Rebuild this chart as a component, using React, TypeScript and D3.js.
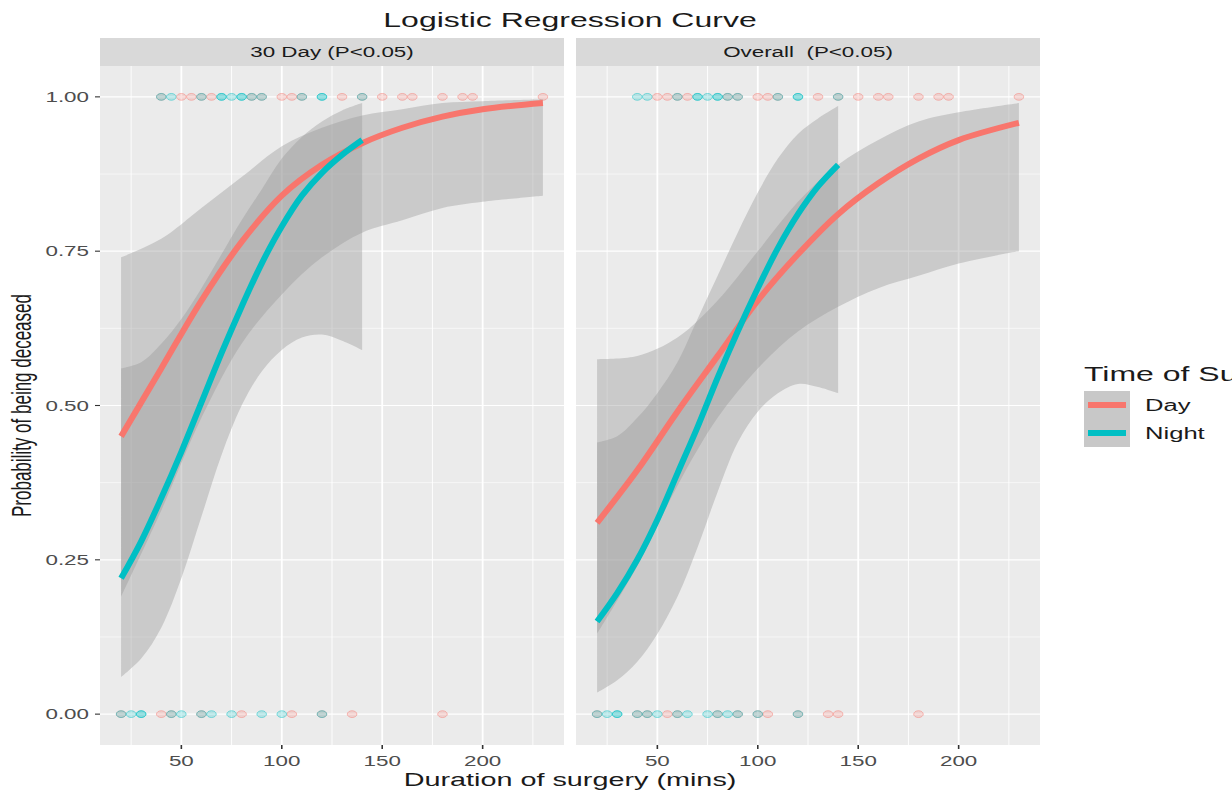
import React from "react";
import * as d3 from "d3";

// fitted curves at these durations
const dayGrid = [20, 40, 60, 80, 100, 120, 140, 160, 180, 200, 230];
const nightGrid = [20, 30, 40, 50, 60, 70, 80, 90, 100, 110, 120, 130, 140];

// 30 day panel
const day30Fit = [0.45, 0.56, 0.67, 0.765, 0.84, 0.89, 0.925, 0.95, 0.968, 0.98, 0.99];
const day30Lo = [0.19, 0.33, 0.48, 0.6, 0.68, 0.74, 0.78, 0.8, 0.82, 0.83, 0.84];
const day30Hi = [0.74, 0.77, 0.82, 0.87, 0.92, 0.95, 0.97, 0.98, 0.99, 0.993, 0.996];
const night30Fit = [0.22, 0.28, 0.35, 0.425, 0.505, 0.585, 0.66, 0.73, 0.79, 0.84, 0.877, 0.906, 0.93];
const night30Lo = [0.06, 0.09, 0.14, 0.22, 0.32, 0.42, 0.5, 0.555, 0.59, 0.61, 0.615, 0.605, 0.59];
const night30Hi = [0.56, 0.57, 0.6, 0.64, 0.69, 0.745, 0.8, 0.85, 0.9, 0.935, 0.96, 0.978, 0.99];

// overall panel
const dayAllFit = [0.31, 0.395, 0.49, 0.58, 0.67, 0.745, 0.81, 0.86, 0.9, 0.93, 0.958];
const dayAllLo = [0.13, 0.24, 0.37, 0.48, 0.56, 0.62, 0.66, 0.69, 0.71, 0.73, 0.75];
const dayAllHi = [0.575, 0.58, 0.61, 0.67, 0.75, 0.83, 0.89, 0.93, 0.96, 0.975, 0.99];
const nightAllFit = [0.15, 0.196, 0.25, 0.315, 0.39, 0.465, 0.545, 0.62, 0.69, 0.755, 0.81, 0.855, 0.89];
const nightAllLo = [0.035, 0.055, 0.085, 0.13, 0.19, 0.27, 0.36, 0.44, 0.49, 0.52, 0.535, 0.53, 0.52];
const nightAllHi = [0.44, 0.45, 0.48, 0.52, 0.57, 0.64, 0.71, 0.78, 0.845, 0.9, 0.94, 0.965, 0.985];

// observed durations (deceased = 1, alive = 0)
const day30Dead = [40, 50, 55, 60, 65, 85, 90, 100, 105, 110, 130, 140, 150, 160, 165, 180, 190, 195, 230];
const night30Dead = [40, 45, 60, 70, 70, 75, 80, 80, 85, 90, 110, 120, 120, 140];
const day30Alive = [20, 40, 45, 60, 80, 105, 120, 135, 180];
const night30Alive = [20, 25, 30, 30, 45, 50, 60, 65, 75, 90, 100, 120];
const dayAllDead = [50, 55, 60, 65, 85, 90, 100, 105, 110, 130, 140, 150, 160, 165, 180, 190, 195, 230];
const nightAllDead = [40, 45, 60, 70, 70, 75, 80, 80, 85, 90, 110, 120, 120, 140];
const dayAllAlive = [20, 40, 45, 55, 60, 80, 90, 100, 105, 120, 135, 140, 180];
const nightAllAlive = [20, 25, 30, 30, 40, 45, 50, 60, 65, 75, 80, 85, 90, 100, 120];

const panelTitles = ["30 Day (P<0.05)", "Overall  (P<0.05)"];
const xTicks = [50, 100, 150, 200];
const xMinor = [25, 75, 125, 175, 225];
const yTicks = [0, 0.25, 0.5, 0.75, 1];
const yMinor = [0.125, 0.375, 0.625, 0.875];
const groups = ["Day", "Night"];
const colours = ["#F8766D", "#00BFC4"];

const panels = [
  {
    title: panelTitles[0],
    day: { fit: day30Fit, lo: day30Lo, hi: day30Hi, dead: day30Dead, alive: day30Alive },
    night: { fit: night30Fit, lo: night30Lo, hi: night30Hi, dead: night30Dead, alive: night30Alive },
  },
  {
    title: panelTitles[1],
    day: { fit: dayAllFit, lo: dayAllLo, hi: dayAllHi, dead: dayAllDead, alive: dayAllAlive },
    night: { fit: nightAllFit, lo: nightAllLo, hi: nightAllHi, dead: nightAllDead, alive: nightAllAlive },
  },
];

const W = 1232;
const H = 793;
const font = "'Liberation Sans', Arial, sans-serif";
const panelLefts = [100, 576];
const panelW = 464;
const top = 66;
const bottom = 745;
const stripH = 28;
// the original export is stretched sideways, text included
const SX = 1.6;

function T(props: { x: number; y: number; size: number; anchor?: string; fill?: string; children: React.ReactNode }) {
  const { x, y, size, anchor = "start", fill = "#1a1a1a", children } = props;
  return (
    <text
      transform={`translate(${x},${y}) scale(${SX},1)`}
      textAnchor={anchor}
      fontSize={size}
      fill={fill}
      style={{ whiteSpace: "pre" }}
    >
      {children}
    </text>
  );
}

export default function App() {
  const x = d3.scaleLinear().domain([9.5, 240.5]).range([0, panelW]);
  const y = d3.scaleLinear().domain([-0.05, 1.05]).range([bottom - top, 0]);

  const line = (grid: number[]) =>
    d3.line<number>()
      .x((d, i) => x(grid[i]))
      .y((d) => y(d))
      .curve(d3.curveCatmullRom.alpha(0.5));

  const band = (grid: number[], lo: number[]) =>
    d3.area<number>()
      .x((d, i) => x(grid[i]))
      .y0((d, i) => y(lo[i]))
      .y1((d) => y(d))
      .curve(d3.curveCatmullRom.alpha(0.5));

  return (
    <svg width={W} height={H} style={{ position: "absolute", left: 0, top: 0, background: "#fff" }} fontFamily={font}>
      <T x={570} y={27} size={20} anchor="middle">Logistic Regression Curve</T>

      {panels.map((p, pi) => {
        const series = [
          { grid: dayGrid, s: p.day, c: colours[0] },
          { grid: nightGrid, s: p.night, c: colours[1] },
        ];
        return (
          <g key={pi} transform={`translate(${panelLefts[pi]},${top})`}>
            <defs>
              <clipPath id={`clip${pi}`}>
                <rect width={panelW} height={bottom - top} />
              </clipPath>
            </defs>
            <rect y={-stripH} width={panelW} height={stripH} fill="#D9D9D9" />
            <T x={panelW / 2} y={-stripH / 2 + 5} size={14} anchor="middle">{p.title}</T>
            <rect width={panelW} height={bottom - top} fill="#EBEBEB" />
            {xMinor.map((t) => (
              <line key={"xm" + t} x1={x(t)} x2={x(t)} y1={0} y2={bottom - top} stroke="#fff" strokeWidth={0.9} />
            ))}
            {yMinor.map((t) => (
              <line key={"ym" + t} x1={0} x2={panelW} y1={y(t)} y2={y(t)} stroke="#fff" strokeWidth={0.6} />
            ))}
            {xTicks.map((t) => (
              <line key={"x" + t} x1={x(t)} x2={x(t)} y1={0} y2={bottom - top} stroke="#fff" strokeWidth={1.8} />
            ))}
            {yTicks.map((t) => (
              <line key={"y" + t} x1={0} x2={panelW} y1={y(t)} y2={y(t)} stroke="#fff" strokeWidth={1.2} />
            ))}

            <g clipPath={`url(#clip${pi})`}>
              {series.map(({ s, c }, si) => (
                <g key={"pts" + si}>
                  {s.dead.map((v, i) => (
                    <ellipse key={"d" + i} cx={x(v)} cy={y(1)} rx={4.8} ry={3.4} fill={c} fillOpacity={0.22} stroke={c} strokeOpacity={0.45} strokeWidth={1} />
                  ))}
                  {s.alive.map((v, i) => (
                    <ellipse key={"a" + i} cx={x(v)} cy={y(0)} rx={4.8} ry={3.4} fill={c} fillOpacity={0.22} stroke={c} strokeOpacity={0.45} strokeWidth={1} />
                  ))}
                </g>
              ))}
              {series.map(({ grid, s }, si) => (
                <path key={"rib" + si} d={band(grid, s.lo)(s.hi) || ""} fill="#999999" fillOpacity={0.4} />
              ))}
              {series.map(({ grid, s, c }, si) => (
                <path key={"ln" + si} d={line(grid)(s.fit) || ""} fill="none" stroke={c} strokeWidth={6} />
              ))}
            </g>

            {xTicks.map((t) => (
              <g key={"xt" + t}>
                <line x1={x(t)} x2={x(t)} y1={bottom - top} y2={bottom - top + 4} stroke="#333" strokeWidth={1.6} />
                <T x={x(t)} y={bottom - top + 21} size={14} anchor="middle" fill="#4D4D4D">{t}</T>
              </g>
            ))}
            {pi === 0 &&
              yTicks.map((t) => (
                <g key={"yt" + t}>
                  <line x1={-5} x2={0} y1={y(t)} y2={y(t)} stroke="#333" strokeWidth={1.1} />
                  <T x={-11} y={y(t) + 5} size={14} anchor="end" fill="#4D4D4D">{d3.format(".2f")(t)}</T>
                </g>
              ))}
          </g>
        );
      })}

      <T x={570} y={786} size={18} anchor="middle">Duration of surgery (mins)</T>
      <text
        transform={`translate(21,${(top + bottom) / 2}) scale(${SX},1) rotate(-90)`}
        textAnchor="middle"
        dy="0.35em"
        fontSize={17}
        fill="#1a1a1a"
      >
        Probability of being deceased
      </text>

      <g transform="translate(1084,0)">
        <T x={0} y={381} size={20}>Time of Surgery</T>
        <rect x={0} y={391} width={46} height={56} fill="#C8C8C8" />
        {groups.map((g, i) => (
          <g key={g}>
            <line x1={4} x2={42} y1={405 + i * 28} y2={405 + i * 28} stroke={colours[i]} strokeWidth={6} />
            <T x={61} y={411 + i * 28} size={16}>{g}</T>
          </g>
        ))}
      </g>
    </svg>
  );
}
